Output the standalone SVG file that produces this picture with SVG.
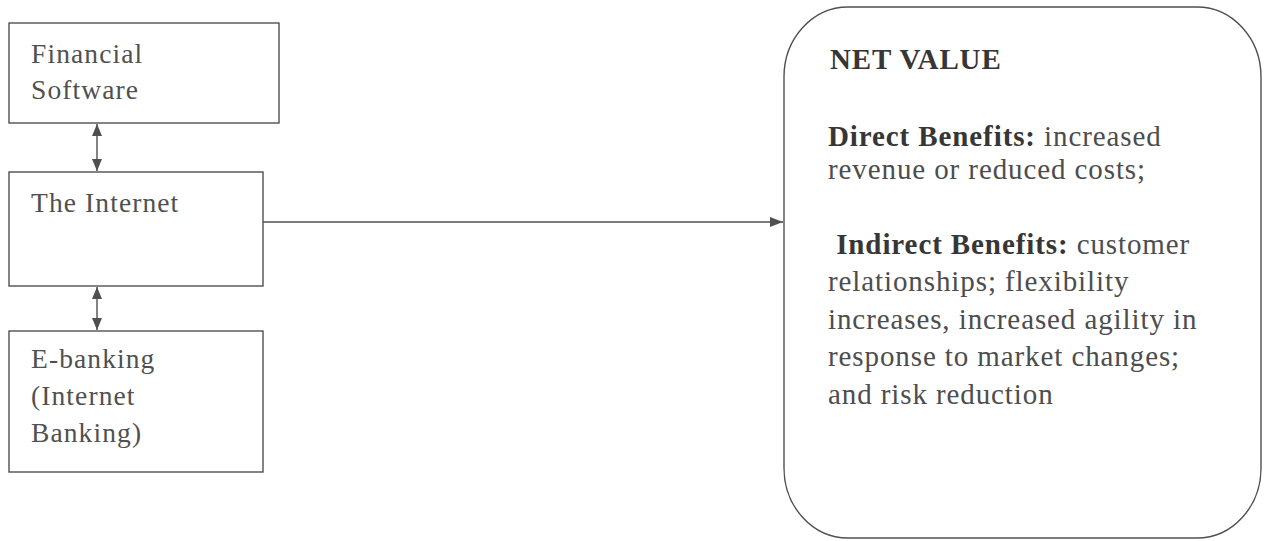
<svg xmlns="http://www.w3.org/2000/svg" width="1267" height="541" viewBox="0 0 1267 541">
  <style>
    .box { fill: #ffffff; stroke: #505050; stroke-width: 1.4; }
    .lbl { font-family: "Liberation Serif", "Times New Roman", serif; font-size: 27.5px; letter-spacing: 1.1px; fill: #505050; }
    .body { font-family: "Liberation Serif", "Times New Roman", serif; font-size: 29px; letter-spacing: 0.9px; fill: #4d4d4d; }
    .b { font-weight: bold; fill: #363636; }
    .link { fill: none; stroke: #505050; stroke-width: 1.4; }
  </style>
  <defs>
    <marker id="head" viewBox="0 0 12 10" refX="12" refY="5" markerWidth="12" markerHeight="10" markerUnits="userSpaceOnUse" orient="auto-start-reverse">
      <path d="M0,0 L12,5 L0,10 z" fill="#505050"/>
    </marker>
    <marker id="headLong" viewBox="0 0 13 10" refX="13" refY="5" markerWidth="13" markerHeight="10" markerUnits="userSpaceOnUse" orient="auto">
      <path d="M0,0 L13,5 L0,10 z" fill="#505050"/>
    </marker>
  </defs>

  <rect width="1267" height="541" fill="#ffffff"/>

  <g id="financial-software">
    <rect class="box" x="9" y="23" width="270" height="100"/>
    <text class="lbl" x="31" y="63">Financial</text>
    <text class="lbl" x="31" y="99">Software</text>
  </g>

  <g id="the-internet">
    <rect class="box" x="9" y="172" width="254" height="114"/>
    <text class="lbl" x="31" y="212">The Internet</text>
  </g>

  <g id="e-banking">
    <rect class="box" x="9" y="331" width="254" height="141"/>
    <text class="lbl" x="31" y="368">E-banking</text>
    <text class="lbl" x="31" y="405">(Internet</text>
    <text class="lbl" x="31" y="442">Banking)</text>
  </g>

  <g id="net-value">
    <rect class="box" x="784" y="7" width="477" height="531" rx="64" ry="70"/>
    <text class="body b" x="830" y="69">NET VALUE</text>
    <text class="body" x="828" y="146"><tspan class="b">Direct Benefits:</tspan> increased</text>
    <text class="body" x="828" y="179">revenue or reduced costs;</text>
    <text class="body" x="828" y="254" xml:space="preserve"> <tspan class="b">Indirect Benefits:</tspan> customer</text>
    <text class="body" x="828" y="291">relationships; flexibility</text>
    <text class="body" x="828" y="329">increases, increased agility in</text>
    <text class="body" x="828" y="366">response to market changes;</text>
    <text class="body" x="828" y="404">and risk reduction</text>
  </g>

  <g id="connectors">
    <line class="link" x1="97" y1="124" x2="97" y2="171" marker-start="url(#head)" marker-end="url(#head)"/>
    <line class="link" x1="97" y1="287" x2="97" y2="330" marker-start="url(#head)" marker-end="url(#head)"/>
    <line class="link" x1="263" y1="222" x2="783" y2="222" marker-end="url(#headLong)"/>
  </g>
</svg>
